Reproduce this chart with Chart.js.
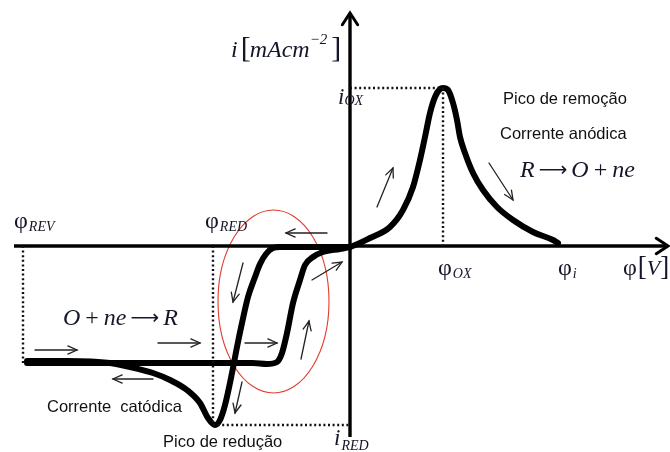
<!DOCTYPE html>
<html>
<head>
<meta charset="utf-8">
<script src="https://cdn.jsdelivr.net/npm/chart.js@4/dist/chart.umd.min.js"></script>
<style>
  html, body { margin: 0; padding: 0; background: #fff; }
  canvas { display: block; }
</style>
</head>
<body>
<canvas id="cv" width="670" height="452"></canvas>
<script>
// Characteristic potentials (relative units) and peak currents (relative units)
const phiREV = -3.27;
const phiRED = -1.37;
const phiOX = 0.93;
const phiI = 2.08;
const iOX = 1.58;
const iRED = -1.79;

// extent of the drawn axes
const potentialRange = [-3.36, 3.18];
const currentRange = [-1.91, 2.33];

// labels along the potential axis
const potentialTickSubs = ['REV', 'RED', 'OX', 'i'];
const potentialTickValues = [phiREV, phiRED, phiOX, phiI];

// cathodic (reverse) sweep: from the origin through the reduction peak to phiREV
const reverseX = [0.00, -0.50, -0.70, -0.77, -0.84, -0.90, -0.95, -1.02, -1.08, -1.13, -1.18, -1.25, -1.30, -1.35, -1.42, -1.50, -1.63, -1.80, -1.97, -2.20, -2.40, -2.83, -3.23];
const reverseY = [-0.01, -0.01, -0.01, -0.02, -0.08, -0.18, -0.31, -0.51, -0.77, -1.01, -1.27, -1.59, -1.74, -1.79, -1.72, -1.57, -1.44, -1.34, -1.27, -1.21, -1.17, -1.15, -1.15];

// anodic (forward) sweep: from phiREV along the plateau, up through the origin, over the oxidation peak to phiI
const forwardX = [-3.23, -2.40, -1.50, -0.97, -0.83, -0.73, -0.68, -0.63, -0.57, -0.50, -0.45, -0.37, -0.27, -0.10, 0.00, 0.20, 0.40, 0.53, 0.63, 0.70, 0.75, 0.80, 0.85, 0.90, 0.93, 0.98, 1.03, 1.07, 1.10, 1.15, 1.23, 1.33, 1.47, 1.63, 1.83, 2.03, 2.08];
const forwardY = [-1.17, -1.17, -1.17, -1.17, -1.18, -1.16, -1.07, -0.87, -0.57, -0.34, -0.19, -0.11, -0.06, -0.03, -0.01, 0.08, 0.19, 0.36, 0.59, 0.86, 1.09, 1.33, 1.49, 1.57, 1.58, 1.56, 1.43, 1.26, 1.09, 0.93, 0.73, 0.56, 0.39, 0.26, 0.14, 0.06, 0.03];

// scan-direction arrows: [x0, y0, x1, y1]
const sweepArrows = [
  [0.27, 0.39, 0.43, 0.78],
  [1.39, 0.83, 1.63, 0.46],
  [-3.15, -1.04, -2.73, -1.04],
  [-1.92, -0.97, -1.50, -0.97],
  [-1.05, -0.97, -0.73, -0.97],
  [-1.97, -1.33, -2.37, -1.33],
  [-0.23, 0.13, -0.64, 0.13],
  [-1.07, -0.17, -1.17, -0.56],
  [-1.08, -1.36, -1.15, -1.67],
  [-0.49, -1.13, -0.41, -0.75],
  [-0.38, -0.34, -0.08, -0.16]
];

// highlighted region around the reduction/re-oxidation transition: [cx, cy, rx, ry]
const transitionRegion = [-0.765, -0.555, 0.555, 0.915];

const SERIF = '"Liberation Serif", "Times New Roman", serif';
const SANS = '"Liberation Sans", Arial, sans-serif';
const ARROWFONT = '"DejaVu Sans", sans-serif';
const INK = '#14162a';

const pts = (xs, ys) => xs.map((x, k) => ({ x, y: ys[k] }));

const dotted = {
  showLine: true, pointRadius: 0, borderColor: '#111', borderWidth: 2.4,
  borderDash: [2, 2.6], borderCapStyle: 'butt', fill: false
};
const solidAxis = {
  showLine: true, pointRadius: 0, borderColor: '#000', borderWidth: 3.4, fill: false
};
const curve = {
  showLine: true, pointRadius: 0, borderColor: '#000', borderWidth: 6,
  cubicInterpolationMode: 'monotone', borderJoinStyle: 'round', borderCapStyle: 'round', fill: false
};

const datasets = [
  Object.assign({ data: pts([phiREV, phiREV], [0, forwardY[0]]) }, dotted),
  Object.assign({ data: pts([phiRED, phiRED], [0, iRED]) }, dotted),
  Object.assign({ data: pts([phiRED, 0], [iRED, iRED]) }, dotted),
  Object.assign({ data: pts([0, phiOX], [iOX, iOX]) }, dotted),
  Object.assign({ data: pts([phiOX, phiOX], [iOX, 0]) }, dotted),
  Object.assign({ data: pts(potentialRange, [0, 0]) }, solidAxis),
  Object.assign({ data: pts([0, 0], currentRange) }, solidAxis),
  Object.assign({ data: pts(reverseX, reverseY) }, curve),
  Object.assign({ data: pts(forwardX, forwardY) }, curve)
];

function arrowHead(ctx, x0, y0, x1, y1, len, half) {
  const a = Math.atan2(y1 - y0, x1 - x0);
  ctx.beginPath();
  ctx.moveTo(x1 - len * Math.cos(a - half), y1 - len * Math.sin(a - half));
  ctx.lineTo(x1, y1);
  ctx.lineTo(x1 - len * Math.cos(a + half), y1 - len * Math.sin(a + half));
  ctx.stroke();
}

function drawRuns(ctx, x, y, runs) {
  let cx = x;
  for (const r of runs) {
    ctx.font = r.font;
    cx += r.pre || 0;
    ctx.fillText(r.t, cx, y + (r.dy || 0));
    cx += ctx.measureText(r.t).width + (r.post || 0);
  }
}

const diagramPlugin = {
  id: 'voltammogram',
  beforeDatasetsDraw(chart) {
    const { ctx, scales: { x, y } } = chart;
    const [cx, cy, rx, ry] = transitionRegion;
    const px = x.getPixelForValue(cx), py = y.getPixelForValue(cy);
    ctx.save();
    ctx.strokeStyle = '#e23a2e';
    ctx.lineWidth = 1.1;
    ctx.beginPath();
    ctx.ellipse(px, py, x.getPixelForValue(cx + rx) - px, y.getPixelForValue(cy - ry) - py, 0, 0, Math.PI * 2);
    ctx.stroke();
    ctx.restore();
  },
  afterDatasetsDraw(chart) {
    const { ctx, scales: { x, y } } = chart;
    ctx.save();
    ctx.lineCap = 'round';
    ctx.lineJoin = 'miter';

    // axis arrowheads
    ctx.strokeStyle = '#000';
    ctx.lineWidth = 3;
    arrowHead(ctx, x.getPixelForValue(potentialRange[0]), y.getPixelForValue(0),
      x.getPixelForValue(potentialRange[1]), y.getPixelForValue(0), 14, 0.58);
    arrowHead(ctx, x.getPixelForValue(0), y.getPixelForValue(currentRange[0]),
      x.getPixelForValue(0), y.getPixelForValue(currentRange[1]), 14, 0.58);

    // scan-direction arrows
    ctx.strokeStyle = '#222';
    ctx.lineWidth = 1.3;
    for (const [a, b, c, d] of sweepArrows) {
      const x0 = x.getPixelForValue(a), y0 = y.getPixelForValue(b);
      const x1 = x.getPixelForValue(c), y1 = y.getPixelForValue(d);
      ctx.beginPath();
      ctx.moveTo(x0, y0);
      ctx.lineTo(x1, y1);
      ctx.stroke();
      arrowHead(ctx, x0, y0, x1, y1, 10, 0.42);
    }

    // text
    ctx.fillStyle = INK;
    ctx.textBaseline = 'alphabetic';
    ctx.textAlign = 'left';
    const ax = x.getPixelForValue(0), ay = y.getPixelForValue(0);

    // potential-axis labels
    const tickLayout = [
      { dx: -9, dy: -18 }, { dx: -8, dy: -18 }, { dx: -5, dy: 29 }, { dx: 0, dy: 29 }
    ];
    potentialTickSubs.forEach((s, k) => {
      const L = tickLayout[k];
      drawRuns(ctx, x.getPixelForValue(potentialTickValues[k]) + L.dx, ay + L.dy, [
        { t: 'φ', font: '24px ' + SERIF, post: 1 },
        { t: s, font: 'italic 14px ' + SERIF, dy: 3 }
      ]);
    });
    drawRuns(ctx, 623, ay + 29, [
      { t: 'φ', font: '24px ' + SERIF, post: 1 },
      { t: '[', font: '27px ' + SERIF },
      { t: 'V', font: 'italic 22px ' + SERIF },
      { t: ']', font: '27px ' + SERIF }
    ]);

    // current-axis labels
    drawRuns(ctx, ax - 12, y.getPixelForValue(iOX) + 16, [
      { t: 'i', font: 'italic 23px ' + SERIF, post: 0 },
      { t: 'OX', font: 'italic 14px ' + SERIF, dy: 1 }
    ]);
    drawRuns(ctx, ax - 16, y.getPixelForValue(iRED) + 20, [
      { t: 'i', font: 'italic 23px ' + SERIF, post: 1 },
      { t: 'RED', font: 'italic 14px ' + SERIF, dy: 5 }
    ]);
    drawRuns(ctx, 231, 57, [
      { t: 'i', font: 'italic 24px ' + SERIF, post: 3 },
      { t: '[', font: '30px ' + SERIF, post: -1 },
      { t: 'mAcm', font: 'italic 24px ' + SERIF },
      { t: '−2', font: 'italic 15px ' + SERIF, dy: -13, post: 4 },
      { t: ']', font: '30px ' + SERIF }
    ]);

    // reactions
    const eqItalic = 'italic 24px ' + SERIF;
    const eqUpright = '24px ' + SERIF;
    const eqArrow = '20px ' + ARROWFONT;
    drawRuns(ctx, 63, 325, [
      { t: 'O', font: eqItalic, post: 5 },
      { t: '+', font: eqUpright, post: 5 },
      { t: 'ne', font: eqItalic, post: 4 },
      { t: '⟶', font: eqArrow, post: 4, dy: -1 },
      { t: 'R', font: eqItalic }
    ]);
    drawRuns(ctx, 520, 177, [
      { t: 'R', font: eqItalic, post: 4 },
      { t: '⟶', font: eqArrow, post: 4, dy: -1 },
      { t: 'O', font: eqItalic, post: 5 },
      { t: '+', font: eqUpright, post: 5 },
      { t: 'ne', font: eqItalic }
    ]);

    // annotations
    ctx.fillStyle = '#111';
    ctx.font = '16.5px ' + SANS;
    ctx.fillText('Pico de remoção', 503, 104);
    ctx.fillText('Corrente anódica', 500, 139);
    ctx.fillText('Corrente  catódica', 47, 412);
    ctx.fillText('Pico de redução', 163, 447);
    ctx.restore();
  }
};

new Chart(document.getElementById('cv'), {
  type: 'scatter',
  data: { datasets },
  options: {
    responsive: false,
    animation: false,
    events: [],
    layout: { padding: 0 },
    plugins: { legend: { display: false }, tooltip: { enabled: false } },
    scales: {
      x: { type: 'linear', min: -3.5, max: 3.2, display: false },
      y: { type: 'linear', min: -2.06, max: 2.46, display: false }
    }
  },
  plugins: [diagramPlugin]
});
</script>
</body>
</html>
